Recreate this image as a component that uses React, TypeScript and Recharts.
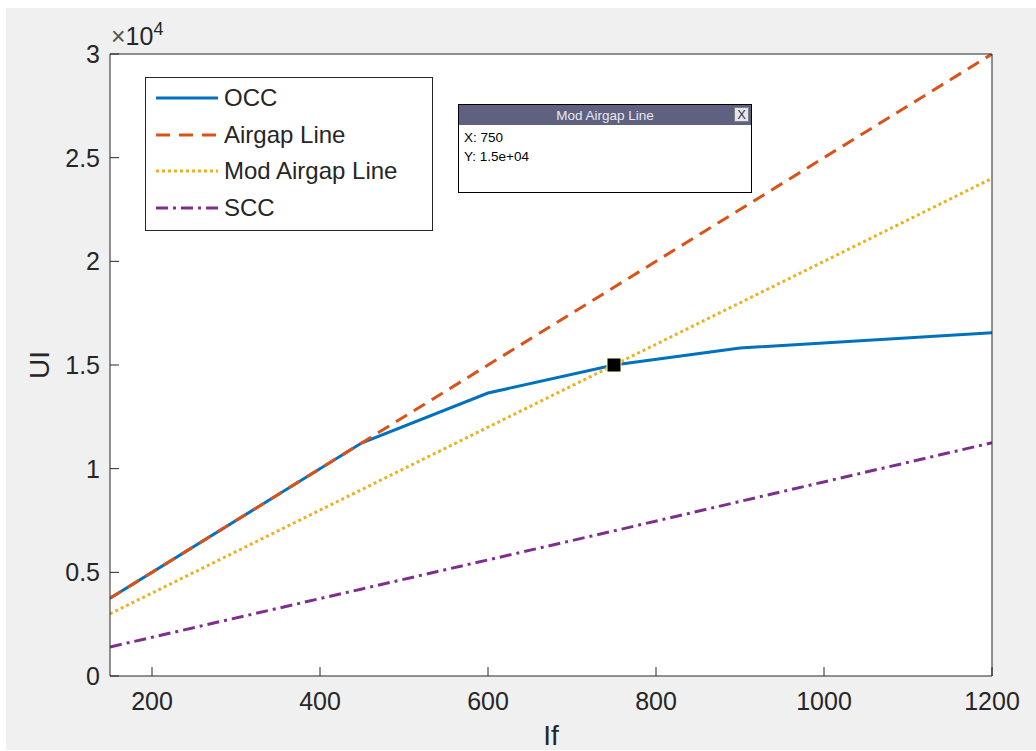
import React from "react";
import {
  LineChart, Line, XAxis, YAxis, ReferenceDot,
} from "recharts";

const fieldCurrent = [150, 450, 600, 750, 900, 1200];
const occ = [3750, 11250, 13650, 15000, 15820, 16550];
const airgap = [3750, 11250, 15000, 18750, 22500, 30000];
const modAirgap = [3000, 9000, 12000, 15000, 18000, 24000];
const scc = [1400, 4200, 5600, 7000, 8420, 11250];

const xTicks = [200, 400, 600, 800, 1000, 1200];
const yTicks = [0, 5000, 10000, 15000, 20000, 25000, 30000];

const tip = { name: "Mod Airgap Line", x: 750, y: 15000 };

const series = [
  { key: "occ", name: "OCC", color: "#0072BD", dash: undefined },
  { key: "airgap", name: "Airgap Line", color: "#D95319", dash: "13 8" },
  { key: "mod", name: "Mod Airgap Line", color: "#EDB120", dash: "3 3" },
  { key: "scc", name: "SCC", color: "#7E2F8E", dash: "12 5 3 5" },
];

const data = fieldCurrent.map((x, i) => ({
  x,
  occ: occ[i],
  airgap: airgap[i],
  mod: modAirgap[i],
  scc: scc[i],
}));

const ink = "#262626";
const font = "'Liberation Sans', Arial, Helvetica, sans-serif";

// legend drawn as an overlay so recharts doesn't shrink the plot for it
function LegendBox() {
  return (
    <div
      style={{
        position: "absolute", left: 145, top: 77, width: 286, height: 150,
        border: `1px solid ${ink}`, background: "#fff", fontFamily: font,
        fontSize: 24, color: ink, paddingTop: 2,
      }}
    >
      {series.map((s) => (
        <div key={s.key} style={{ display: "flex", alignItems: "center", height: 36.5 }}>
          <svg width={78} height={10} style={{ flex: "none" }}>
            <line x1={10} x2={72} y1={5} y2={5} stroke={s.color} strokeWidth={3}
              strokeDasharray={s.key === "airgap" ? "14 9" : s.dash} />
          </svg>
          <span>{s.name}</span>
        </div>
      ))}
    </div>
  );
}

function TipMarker(props: any) {
  const { cx, cy } = props;
  return <rect x={cx - 7} y={cy - 7} width={14} height={14} fill="#000" stroke="#ffffcc" strokeWidth={1} />;
}

export default function App() {
  return (
    <div style={{ position: "absolute", left: 0, top: 0, width: 1036, height: 751, background: "#fff" }}>
      <div style={{ position: "absolute", left: 6, top: 8, width: 1030, height: 742, background: "#f0f0f0" }} />
      <div style={{ position: "absolute", left: 0, top: 0 }}>
        <LineChart
          width={1036}
          height={751}
          data={data}
          margin={{ top: 44, right: 34, bottom: 45, left: 50 }}
          style={{ fontFamily: font }}
        >
          <rect x={110} y={54} width={882} height={622} fill="#fff" />
          <XAxis
            dataKey="x" type="number" domain={[150, 1200]} ticks={xTicks}
            allowDataOverflow height={30} tickSize={-9} tickMargin={25}
            stroke={ink} tick={{ fill: ink, fontSize: 25 }}
          />
          <XAxis
            xAxisId="top" orientation="top" dataKey="x" type="number"
            domain={[150, 1200]} ticks={xTicks} allowDataOverflow height={10}
            tickSize={-9} tick={false} stroke={ink}
          />
          <YAxis
            type="number" domain={[0, 30000]} ticks={yTicks} allowDataOverflow
            width={60} tickSize={-9} tickMargin={19} stroke={ink}
            tick={{ fill: ink, fontSize: 25 }}
            tickFormatter={(v: number) => String(v / 10000)}
          />
          <YAxis
            yAxisId="right" orientation="right" type="number" domain={[0, 30000]}
            ticks={yTicks} allowDataOverflow width={10} tickSize={-9} tick={false}
            stroke={ink}
          />
          {series.map((s) => (
            <Line
              key={s.key} dataKey={s.key} name={s.name} type="linear"
              stroke={s.color} strokeWidth={3} strokeDasharray={s.dash}
              dot={false} activeDot={false} isAnimationActive={false}
            />
          ))}
          <ReferenceDot x={tip.x} y={tip.y} r={7} shape={TipMarker} />
        </LineChart>
      </div>

      <LegendBox />

      <div style={{ position: "absolute", left: 111, top: 24, fontFamily: font, color: ink, fontSize: 25, lineHeight: 1, whiteSpace: "nowrap" }}>
        <span style={{ color: "#555" }}>×</span>10<span style={{ fontSize: 18, position: "relative", top: -10 }}>4</span>
      </div>

      <div
        style={{
          position: "absolute", left: 40, top: 365, fontFamily: font, color: ink,
          fontSize: 28, lineHeight: 1, transform: "translate(-50%, -50%) rotate(-90deg)",
        }}
      >
        UI
      </div>

      <div
        style={{
          position: "absolute", left: 551, top: 722, fontFamily: font, color: ink,
          fontSize: 28, lineHeight: 1, transform: "translateX(-50%)",
        }}
      >
        If
      </div>

      <div
        style={{
          position: "absolute", left: 458, top: 104, width: 292, height: 87,
          border: "1px solid #000", background: "#fff", fontFamily: font, fontSize: 13.5, color: "#000",
        }}
      >
        <div
          style={{
            height: 20, background: "#606080", color: "#e8e8f0", display: "flex",
            alignItems: "center", justifyContent: "center", position: "relative",
          }}
        >
          {tip.name}
          <div
            style={{
              position: "absolute", right: 2, top: 2, width: 15, height: 15,
              background: "#e6e6e6", border: "1px solid #808080", boxSizing: "border-box",
              fontSize: 13, lineHeight: "13px", textAlign: "center", color: "#303060",
            }}
          >
            X
          </div>
        </div>
        <div style={{ padding: "3px 5px", lineHeight: "19px" }}>
          <div>X: {tip.x}</div>
          <div>Y: {tip.y.toExponential(1).replace("e+", "e+0")}</div>
        </div>
      </div>
    </div>
  );
}
